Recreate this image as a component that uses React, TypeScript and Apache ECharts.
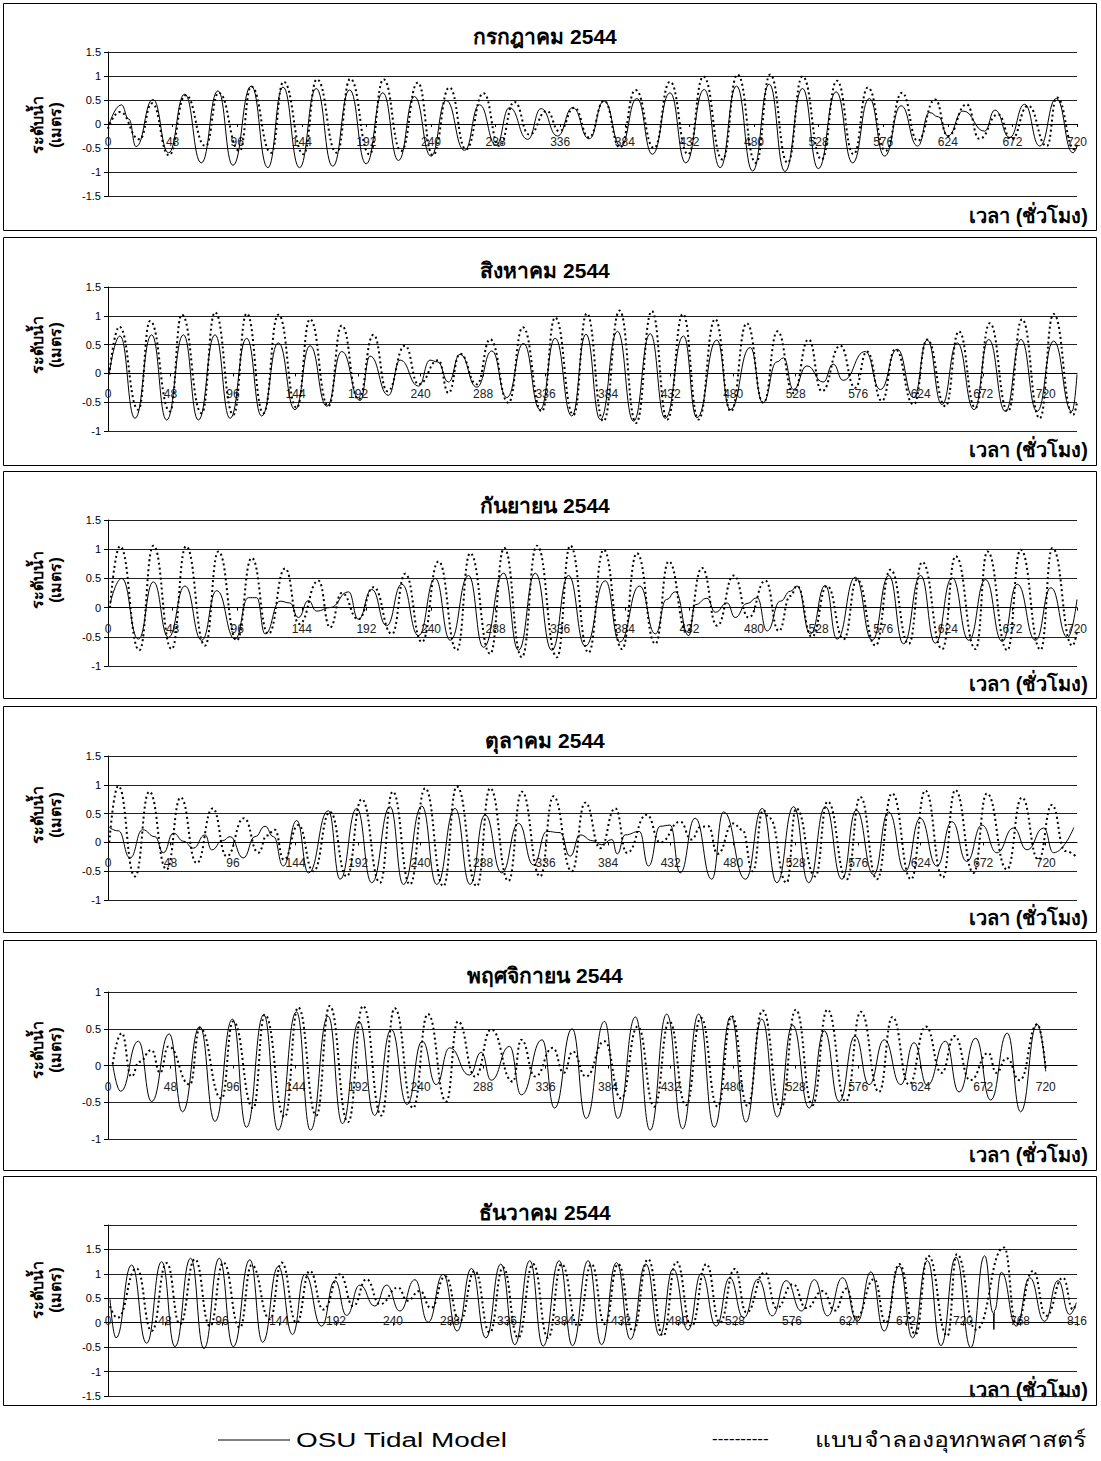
import React, { useEffect, useRef } from "react";
import * as echarts from "echarts";

// ---- Data: [hour, water level (m)] read at turning points of each curve ----
const julOsu = [[0,-0.08],[9.9,0.4],[15.5,0.1],[20.8,-0.47],[33.4,0.51],[45,-0.6],[57,0.62],[69.3,-0.81],[81.7,0.69],[92.8,-0.86],[106.4,0.79],[118.8,-0.91],[130,0.77],[142.3,-0.91],[154.7,0.74],[167,-0.88],[179.5,0.71],[191.8,-0.83],[204.2,0.65],[215.8,-0.76],[227.7,0.57],[240,-0.67],[251.2,0.49],[264.9,-0.55],[276,0.4],[288.4,-0.44],[298.3,0.34],[311.9,-0.32],[321.8,0.32],[334,-0.25],[345.3,0.34],[357.5,-0.31],[368.6,0.48],[381,-0.46],[393,0.53],[404.5,-0.63],[417.6,0.65],[429.3,-0.81],[443,0.72],[454.8,-0.91],[467,0.79],[479,-0.98],[491.3,0.83],[503,-0.99],[516,0.74],[527.8,-0.93],[541,0.67],[553.3,-0.81],[565.7,0.53],[577,-0.67],[589.3,0.38],[601.6,-0.46],[610.4,0.24],[617,0.15],[624,-0.25],[635.3,0.27],[651.4,-0.15],[659,0.29],[670,-0.28],[681,0.41],[692.3,-0.46],[704.6,0.53],[717,-0.6],[720,-0.46]];
const julModel = [[0,-0.1],[8.7,0.25],[23.5,-0.32],[32.7,0.43],[45.3,-0.65],[57.7,0.6],[72.5,-0.46],[82.2,0.65],[97.8,-0.56],[106.4,0.78],[121.3,-0.6],[130.4,0.88],[145.3,-0.63],[155.2,0.93],[170,-0.6],[180,0.94],[194.3,-0.63],[204.7,0.93],[217.8,-0.56],[230.2,0.86],[241.3,-0.65],[253.7,0.76],[266,-0.53],[279,0.64],[290.8,-0.46],[302,0.46],[313,-0.22],[326,0.27],[335.4,-0.15],[346.5,0.34],[357.4,-0.28],[368.6,0.48],[380.5,-0.49],[392,0.71],[405.7,-0.5],[417.6,0.88],[431,-0.63],[442.4,0.99],[456.6,-0.74],[467.7,1.03],[481.4,-0.81],[492,1.03],[505,-0.81],[516,0.99],[530.2,-0.74],[541.6,0.9],[554,-0.63],[564.6,0.76],[577.8,-0.56],[590,0.65],[601.6,-0.35],[614.6,0.51],[624,-0.25],[638,0.41],[647.5,-0.31],[661.3,0.2],[671.2,-0.32],[683.7,0.38],[697.6,-0.46],[705,0.55],[718.3,-0.53],[720,-0.42]];

const augOsu = [[1,0],[9.2,0.65],[20.7,-0.78],[33.5,0.67],[45,-0.81],[57.9,0.67],[69.4,-0.81],[82.2,0.67],[93.7,-0.78],[106.5,0.61],[118,-0.74],[130.8,0.53],[143.6,-0.63],[155.1,0.48],[168,-0.57],[179.5,0.38],[193.6,-0.47],[201.2,0.3],[215.3,-0.38],[224.3,0.23],[238.4,-0.22],[247.3,0.23],[253,0.2],[261.4,-0.15],[270.3,0.33],[283.2,-0.24],[294.7,0.39],[306.2,-0.42],[319,0.52],[331.8,-0.63],[343.3,0.61],[356.1,-0.74],[367,0.68],[378,-0.8],[391.2,0.73],[403.5,-0.83],[416.3,0.69],[427.8,-0.78],[441.9,0.65],[452.1,-0.77],[467.5,0.58],[477.7,-0.63],[493.1,0.45],[502.8,-0.51],[513.6,0.2],[518.7,0.27],[526.3,-0.28],[536.6,0.13],[549.1,-0.15],[556.8,0.16],[564.4,-0.12],[581.4,0.38],[593,-0.28],[606,0.42],[618.6,-0.42],[629,0.58],[640.3,-0.54],[652,0.53],[665,-0.63],[676.2,0.59],[689,-0.66],[701,0.59],[713.3,-0.66],[726,0.56],[740.1,-0.66],[744,-0.02]];
const augModel = [[1,-0.02],[8.7,0.81],[23.3,-0.63],[32.3,0.91],[47.6,-0.66],[56.6,1.02],[71.9,-0.69],[82.2,1.06],[96.3,-0.72],[106.5,1.04],[119.3,-0.69],[130.8,1.02],[144.9,-0.6],[155.1,0.94],[169.2,-0.57],[179.5,0.83],[192.3,-0.45],[203.8,0.67],[214.5,-0.31],[228.1,0.48],[238.4,-0.19],[253.7,0.23],[261.4,-0.34],[270.3,0.34],[283.2,-0.19],[293.4,0.59],[307.5,-0.51],[318.5,0.8],[333.1,-0.66],[343.3,0.97],[357.4,-0.72],[367.6,1.04],[380.4,-0.83],[392.8,1.09],[405.5,-0.86],[417.6,1.08],[429.5,-0.8],[441.4,1.03],[453.4,-0.8],[466.2,0.94],[478.2,-0.66],[490.5,0.87],[503.3,-0.51],[514,0.73],[526.3,-0.34],[537.9,0.59],[548.1,-0.31],[562.2,0.48],[573.7,-0.25],[582.7,0.38],[594.2,-0.48],[604.4,0.42],[618.6,-0.54],[629,0.59],[643,-0.57],[653.3,0.73],[666,-0.6],[677,0.87],[691,-0.66],[701.8,0.94],[715.4,-0.78],[726,1.03],[741,-0.72],[744,-0.5]];

const sepOsu = [[1.5,0.06],[10.2,0.5],[22.6,-0.54],[33.7,0.44],[44.9,-0.51],[57.2,0.37],[69.6,-0.56],[80.8,0.29],[94.4,-0.54],[104.3,0.17],[110.5,0.17],[116.7,-0.45],[127.9,0.11],[135,0.08],[141.5,-0.17],[148.9,0.12],[155,-0.06],[165,0],[178.7,0.27],[186,-0.2],[196,0.31],[207,-0.31],[218.3,0.4],[230.7,-0.48],[243.1,0.5],[254.3,-0.56],[267.9,0.55],[279,-0.68],[294,0.59],[305,-0.73],[317.5,0.59],[329.8,-0.73],[342.2,0.55],[354.6,-0.66],[369.5,0.46],[380.2,-0.59],[395,0.37],[406.7,-0.45],[415,0.14],[421.6,0.27],[431.5,-0.48],[436.4,0.05],[445,0.16],[451.3,-0.08],[460,0.08],[466,-0.17],[474.8,0.07],[482.3,0.17],[489.7,-0.4],[499.6,0.11],[507,0.28],[512,0.37],[521.9,-0.45],[533,0.38],[541.7,-0.54],[555.3,0.52],[567.8,-0.56],[580.2,0.55],[591.1,-0.62],[603.8,0.55],[614.7,-0.61],[627.2,0.51],[639.6,-0.56],[652,0.48],[664.4,-0.58],[675.6,0.4],[689.2,-0.56],[700.6,0.34],[713,-0.51],[720,0.14]];
const sepModel = [[1.5,0],[8.9,1.05],[23.3,-0.73],[33.7,1.06],[47.3,-0.71],[58,1.05],[72.1,-0.65],[82,0.96],[95.7,-0.56],[106.8,0.85],[119.2,-0.45],[131.6,0.67],[142,-0.28],[156.4,0.46],[165,-0.34],[173.7,0.25],[186,-0.2],[197.3,0.35],[211,-0.45],[220.8,0.58],[233.2,-0.59],[245.6,0.79],[259.2,-0.73],[269.1,0.93],[284,-0.79],[294.4,1.02],[307.5,-0.85],[318.7,1.06],[333.6,-0.85],[343.5,1.06],[357.1,-0.77],[368.3,0.99],[381.9,-0.71],[393,0.93],[406.7,-0.62],[416.6,0.79],[430.2,-0.42],[441.4,0.68],[452.6,-0.31],[465,0.55],[476,-0.17],[488.5,0.46],[498.4,-0.4],[507,0.2],[512,0.37],[523,-0.5],[534.3,0.37],[546.7,-0.54],[556.6,0.48],[570.3,-0.65],[581.4,0.65],[595,-0.62],[605,0.78],[619.9,-0.71],[629.8,0.88],[644.7,-0.71],[653.4,0.96],[668.2,-0.73],[678.1,0.99],[693,-0.72],[701.7,1.02],[716.6,-0.65],[720,-0.4]];

const octOsu = [[1,0.26],[8,0.2],[16.9,-0.27],[26.6,0.22],[36,0.1],[42.5,-0.18],[50.2,0.16],[58,0.02],[65.5,-0.1],[74.5,0.13],[79.6,-0.13],[88,0.03],[93.7,0.1],[103.9,-0.27],[112.9,0.1],[120.6,0.28],[127,0.1],[134.6,-0.41],[144.9,0.38],[153.9,-0.53],[169.2,0.55],[178.2,-0.64],[191,0.59],[202.5,-0.7],[216.6,0.62],[226.8,-0.73],[241,0.63],[252.4,-0.73],[266.5,0.59],[278,-0.73],[289.5,0.48],[302.3,-0.53],[315.2,0.33],[326.7,-0.39],[336.9,0.19],[347.1,0.17],[354.8,-0.24],[362.5,0.13],[372,0.03],[379,-0.04],[386.9,0.05],[391,-0.2],[397,0.13],[408,0.19],[415,-0.41],[424,0.28],[431.6,0.3],[439.3,-0.53],[450.8,0.42],[463.6,-0.64],[472.6,0.53],[489.5,-0.64],[502.3,0.59],[513.6,-0.7],[526.4,0.62],[538,-0.7],[550.8,0.62],[563.5,-0.64],[574.5,0.56],[587.8,-0.56],[599.3,0.53],[612.1,-0.5],[623.6,0.42],[636.4,-0.41],[648,0.36],[659.4,-0.33],[671,0.3],[682.5,-0.18],[695.3,0.25],[705.6,-0.13],[718.4,0.25],[726,-0.18],[741.6,0.26]];
const octModel = [[1,0],[7.9,0.98],[20.7,-0.59],[31.7,0.88],[45,-0.47],[55.8,0.78],[68.1,-0.36],[80.4,0.59],[91.1,-0.24],[104.4,0.42],[115.5,-0.18],[122,0.12],[128,0.22],[135,-0.3],[146.2,0.3],[157.7,-0.5],[170.5,0.53],[183.3,-0.59],[194.8,0.75],[208.9,-0.7],[218.6,0.88],[231.9,-0.73],[243.5,0.94],[257.5,-0.76],[267.8,0.97],[283.2,-0.76],[293.4,0.94],[307.5,-0.67],[317.7,0.88],[331.8,-0.59],[342,0.8],[356.1,-0.5],[366.4,0.69],[378,-0.1],[389.5,0.59],[398.4,-0.18],[413.7,0.48],[424,0],[439.3,0.36],[448,0.05],[455,0.27],[461,0.28],[468,-0.2],[480,0.33],[487,0.22],[495,-0.5],[503,0.56],[508,0.42],[521,-0.7],[528.4,0.59],[543,-0.59],[552.5,0.71],[567.3,-0.64],[577.6,0.79],[590.4,-0.64],[602,0.85],[616.6,-0.64],[627.5,0.9],[641,-0.61],[650.5,0.91],[664.6,-0.53],[674.8,0.85],[690.2,-0.47],[701.7,0.78],[714.4,-0.3],[724.7,0.65],[735,-0.15],[743,-0.24]];

const novOsu = [[3.6,0.02],[9.7,-0.35],[23.3,0.33],[33.5,-0.49],[47,0.43],[57.2,-0.63],[70.5,0.53],[82.1,-0.76],[95.6,0.63],[106.3,-0.84],[119.6,0.69],[130.6,-0.88],[144.7,0.73],[155.4,-0.88],[169,0.67],[180,-0.79],[192.8,0.6],[204.7,-0.68],[217.5,0.49],[229.6,-0.53],[241.3,0.33],[252,-0.26],[262.3,0.24],[277.6,-0.13],[286.6,0.18],[294.2,-0.2],[308.3,0.26],[317.3,-0.4],[333.3,0.35],[342.8,-0.58],[356.4,0.5],[367.1,-0.72],[381.2,0.6],[391.4,-0.72],[405,0.66],[416.2,-0.88],[429,0.7],[441.2,-0.86],[453.5,0.7],[465.5,-0.84],[478.3,0.67],[489.8,-0.77],[502,0.63],[514,-0.7],[525.6,0.55],[538.4,-0.58],[550,0.47],[561.4,-0.49],[573.6,0.4],[584.4,-0.26],[596,0.35],[608.7,-0.26],[618.9,0.31],[629,-0.27],[643,0.33],[653.4,-0.36],[666.2,0.37],[677.7,-0.47],[690.5,0.44],[700.7,-0.63],[713.5,0.56],[720,-0.08]];
const novModel = [[3.6,0.02],[10.5,0.44],[18,-0.15],[24,0.05],[33.5,0.21],[40,-0.1],[46.3,0.26],[62.9,-0.26],[70.5,0.51],[87.2,-0.45],[96.1,0.6],[111.5,-0.58],[120.4,0.69],[135.7,-0.7],[146,0.79],[160,-0.68],[170.2,0.81],[184.3,-0.77],[195.8,0.81],[209.9,-0.68],[220.1,0.78],[234.2,-0.58],[245.6,0.7],[259.7,-0.49],[268.7,0.6],[282,-0.15],[294.2,0.49],[310.8,-0.22],[317.3,0.35],[328,-0.15],[341.5,0.24],[350,-0.1],[356.8,0.19],[367,-0.15],[381.2,0.33],[393.9,-0.45],[406.7,0.53],[419.5,-0.56],[431,0.6],[443.8,-0.54],[455.3,0.65],[468,-0.56],[479,0.67],[491,-0.55],[502.6,0.75],[516.7,-0.58],[528.1,0.76],[540.9,-0.54],[552.4,0.76],[566.5,-0.49],[578,0.73],[592,-0.36],[602.3,0.66],[615,-0.26],[628,0.53],[640,-0.1],[650,0.4],[662,-0.2],[676,0.17],[682,-0.1],[690,0.1],[700,-0.2],[713.5,0.56],[720,-0.06]];

const decOsu = [[1.7,0.48],[6.7,-0.31],[19.9,1.18],[32.5,-0.42],[45.2,1.25],[56.4,-0.49],[69.6,1.32],[80.8,-0.53],[93.7,1.32],[105.5,-0.49],[119.5,1.29],[130.2,-0.4],[143.4,1.15],[155.4,-0.24],[165.8,0.99],[179.9,-0.07],[191.1,0.86],[200.9,0.15],[212.1,0.77],[224.7,0.34],[234.6,0.77],[245.8,0.24],[258.4,0.88],[269.6,0.01],[282.2,0.99],[294,-0.17],[306.1,1.11],[318.2,-0.31],[330.8,1.2],[342.6,-0.45],[355.2,1.27],[366.4,-0.48],[380,1.27],[391.1,-0.47],[404.3,1.27],[415.6,-0.45],[428.2,1.23],[440,-0.34],[452.9,1.2],[464.6,-0.26],[475.9,1.1],[488.4,-0.15],[499.7,1.01],[512.2,-0.07],[523.5,0.92],[535.3,0.1],[547.4,0.89],[559.4,0.14],[571.1,0.86],[584,0.24],[594.9,0.88],[605.9,0.14],[618.6,0.92],[631.2,0.03],[642.4,1.04],[653.6,-0.17],[666.3,1.16],[677.5,-0.31],[690.1,1.27],[701.4,-0.47],[714,1.34],[726.6,-0.51],[738.2,1.37],[745.5,0.2],[746,-0.14],[746.5,0.25],[752.3,1.03],[764.9,-0.07],[776.1,0.92],[788.7,0.03],[800,0.86],[809.8,0.17],[815.4,0.41]];
const decModel = [[1.7,0.34],[8,0.1],[24.1,1.11],[36.8,-0.17],[49.4,1.22],[60.6,-0.03],[73.2,1.3],[85.9,-0.07],[97.1,1.23],[111,-0.1],[120.9,1.18],[136.4,0.07],[146.2,1.23],[158.8,0],[170,1.06],[181.3,0.27],[195.3,0.99],[206.5,0.34],[217.7,0.89],[229,0.38],[244.4,0.72],[252,0.45],[262.6,0.65],[272,0.3],[284,0.95],[296.3,0.03],[308.9,1.06],[321.5,-0.2],[332.7,1.13],[345.4,-0.31],[358,1.2],[370.6,-0.31],[381.9,1.2],[395.9,-0.07],[407.1,1.2],[418.4,-0.03],[429.6,1.2],[442.2,-0.17],[454.8,1.3],[467.4,-0.27],[478.7,1.25],[491.3,-0.07],[503.9,1.2],[515.2,0],[527.8,1.1],[537.6,0.21],[553,1.03],[563,0.3],[576.8,0.79],[588,0.3],[602,0.65],[612,0.25],[622,0.7],[630,0.1],[645.2,0.89],[655,0],[666.3,1.2],[680,-0.24],[690.6,1.37],[706.9,-0.27],[714.8,1.4],[730.8,-0.14],[754.6,1.54],[764.9,-0.03],[778.9,1.06],[790.1,0.14],[804.2,0.92],[812.7,0.27],[815,0.4]];

const panelTitles = ["กรกฎาคม 2544", "สิงหาคม 2544", "กันยายน 2544", "ตุลาคม 2544", "พฤศจิกายน 2544", "ธันวาคม 2544"];
const osuSeries = [julOsu, augOsu, sepOsu, octOsu, novOsu, decOsu];
const modelSeries = [julModel, augModel, sepModel, octModel, novModel, decModel];
const xMaxHours = [720, 744, 720, 744, 744, 816];
const yMins = [-1.5, -1, -1, -1, -1, -1.5];
const yMaxs = [1.5, 1.5, 1.5, 1.5, 1, 2];
const yTitle = "ระดับน้ำ\n(เมตร)";
const xTitle = "เวลา (ชั่วโมง)";
const legendNames = ["OSU Tidal Model", "แบบจำลองอุทกพลศาสตร์"];
const legendDashes = "----------";

// ---- Layout (pixels) ----
const layout = [
  { top: 52, bottom: 196, margin: 12, box: [3, 230], titleY: 36, yTitleY: 125, xTitleY: 216 },
  { top: 287, bottom: 431, margin: 15, box: [237, 465], titleY: 270, yTitleY: 345, xTitleY: 450 },
  { top: 520, bottom: 666, margin: 15, box: [471, 698], titleY: 505, yTitleY: 580, xTitleY: 684 },
  { top: 756, bottom: 900, margin: 15, box: [706, 932], titleY: 740, yTitleY: 815, xTitleY: 918 },
  { top: 992, bottom: 1139, margin: 15, box: [940, 1170], titleY: 975, yTitleY: 1050, xTitleY: 1155 },
  { top: 1225, bottom: 1396, margin: -8, box: [1176, 1405], titleY: 1212, yTitleY: 1290, xTitleY: 1390 },
];

const FONT = "Arial, 'Liberation Sans', 'DejaVu Sans', sans-serif";

export default function App() {
  const ref = useRef<HTMLDivElement>(null);
  useEffect(() => {
    const chart = echarts.init(ref.current as HTMLDivElement, null, { renderer: "svg" });
    const grid: any[] = [];
    const xAxis: any[] = [];
    const yAxis: any[] = [];
    const series: any[] = [];
    const graphic: any[] = [];
    layout.forEach((L, i) => {
      const h = L.bottom - L.top;
      const zeroOffset = -(h * (0 - yMins[i])) / (yMaxs[i] - yMins[i]);
      grid.push({ left: 108, width: 969, top: L.top, height: h, containLabel: false });
      xAxis.push({
        type: "value", gridIndex: i, min: 0, max: xMaxHours[i], interval: 48,
        position: "bottom", offset: zeroOffset,
        axisLine: { show: true, onZero: false, lineStyle: { color: "#000", width: 1 } },
        axisTick: { show: true, length: 3, lineStyle: { color: "#000" } },
        axisLabel: { margin: L.margin, fontSize: 12, color: "#222", fontFamily: FONT, showMaxLabel: xMaxHours[i] % 48 === 0 },
        splitLine: { show: false },
      });
      yAxis.push({
        type: "value", gridIndex: i, min: yMins[i], max: yMaxs[i], interval: 0.5,
        axisLine: { show: true, onZero: false, lineStyle: { color: "#000", width: 1 } },
        axisTick: { show: true, length: 4, lineStyle: { color: "#000" } },
        axisLabel: {
          fontSize: 11, color: "#000", fontFamily: FONT, margin: 7,
          formatter: (v: number) => (v > 1.6 ? "" : String(v)),
        },
        splitLine: { show: true, lineStyle: { color: "#222", width: 1 } },
      });
      series.push({
        type: "line", name: legendNames[0], xAxisIndex: i, yAxisIndex: i, data: osuSeries[i],
        showSymbol: false, symbol: "none", smooth: 0.5, smoothMonotone: "x",
        lineStyle: { color: "#000", width: 1 }, z: 3,
      });
      series.push({
        type: "line", name: legendNames[1], xAxisIndex: i, yAxisIndex: i, data: modelSeries[i],
        showSymbol: false, symbol: "none", smooth: 0.5, smoothMonotone: "x",
        lineStyle: { color: "#000", width: 2, type: [2, 3] }, z: 4,
      });
      graphic.push({
        type: "rect", shape: { x: 3.5, y: L.box[0] + 0.5, width: 1093, height: L.box[1] - L.box[0] },
        style: { fill: "none", stroke: "#000", lineWidth: 1 }, silent: true, z: 0,
      });
      graphic.push({
        type: "text", x: 545, y: L.titleY,
        style: { text: panelTitles[i], font: `bold 21px ${FONT}`, fill: "#000", align: "center", verticalAlign: "middle" },
      });
      graphic.push({
        type: "text", x: 46, y: L.yTitleY, rotation: Math.PI / 2,
        style: { text: yTitle, font: `bold 16px ${FONT}`, fill: "#000", align: "center", verticalAlign: "middle", lineHeight: 18 },
      });
      graphic.push({
        type: "text", x: 1088, y: L.xTitleY,
        style: { text: xTitle, font: `bold 20px ${FONT}`, fill: "#000", align: "right", verticalAlign: "middle" },
      });
    });
    // legend
    graphic.push({ type: "line", shape: { x1: 218, y1: 1440, x2: 290, y2: 1440 }, style: { stroke: "#000", lineWidth: 1 } });
    graphic.push({ type: "text", x: 296, y: 1440, scaleX: 1.33, style: { text: legendNames[0], font: `21px ${FONT}`, fill: "#000", verticalAlign: "middle" } });
    graphic.push({ type: "text", x: 712, y: 1438, style: { text: legendDashes, font: `17px ${FONT}`, fill: "#000", verticalAlign: "middle" } });
    graphic.push({ type: "text", x: 815, y: 1440, scaleX: 1.18, style: { text: legendNames[1], font: `21px ${FONT}`, fill: "#000", verticalAlign: "middle" } });

    chart.setOption({
      animation: false,
      backgroundColor: "#fff",
      grid, xAxis, yAxis, series, graphic,
    });
    return () => chart.dispose();
  }, []);
  return <div ref={ref} style={{ position: "absolute", left: 0, top: 0, width: 1101, height: 1461 }} />;
}
